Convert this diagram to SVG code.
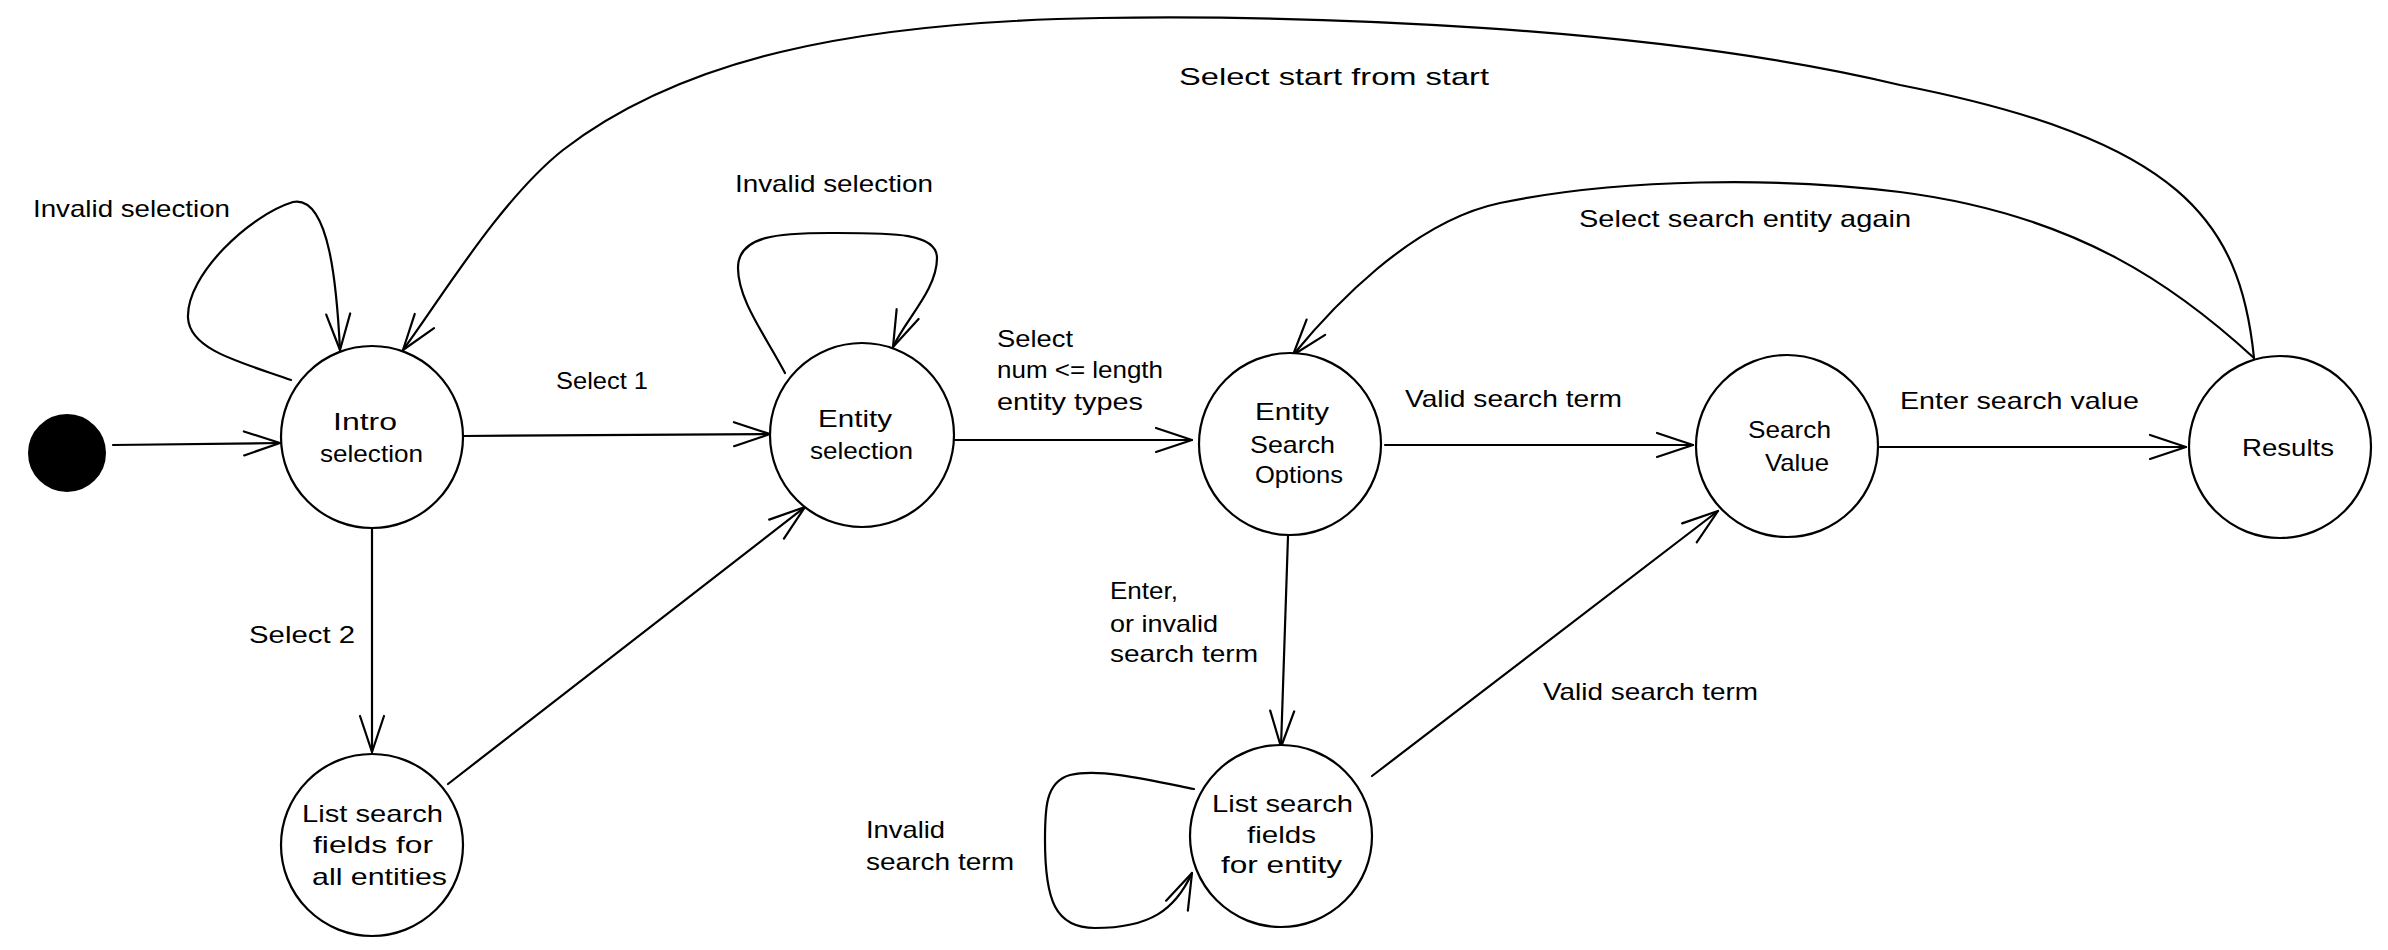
<svg xmlns="http://www.w3.org/2000/svg" width="2388" height="950" viewBox="0 0 2388 950">
<style>
.node{fill:#ffffff;stroke:#000000;stroke-width:2.2}
.edge{fill:none;stroke:#000000;stroke-width:2.2;stroke-linecap:round;marker-end:url(#arr)}
text{font-family:"Liberation Sans",Arial,sans-serif;font-size:24px;fill:#000000}
</style>
<defs>
<marker id="arr" markerUnits="userSpaceOnUse" markerWidth="50" markerHeight="40" viewBox="-40 -20 50 40" refX="0" refY="0" orient="auto">
<path d="M-36,-12 L0,0 L-36,12" fill="none" stroke="#000000" stroke-width="2.2" stroke-linecap="round" stroke-linejoin="round"/>
</marker>
</defs>
<rect width="2388" height="950" fill="#ffffff"/>
<g id="connectors">
<path class="edge" d="M113,445 L280,443"/>
<path class="edge" d="M463,436 L770,434"/>
<path class="edge" d="M953,440 L1192,440"/>
<path class="edge" d="M1385,445 L1693,445"/>
<path class="edge" d="M1880,447 L2186,447"/>
<path class="edge" d="M372,529 L372,752"/>
<path class="edge" d="M448,784 L805,507"/>
<path class="edge" d="M1288,536 L1281,747"/>
<path class="edge" d="M1372,776 L1718,511"/>
<path class="edge" d="M291,380 C240,362 190,350 188,318 C186,275 250,215 293,202 C330,195 337,290 340,350"/>
<path class="edge" d="M785,373 C765,335 738,300 738,268 C738,235 780,233 830,233 C890,233 937,232 937,258 C937,290 905,320 893,347"/>
<path class="edge" d="M1194,789 C1150,780 1100,768 1070,775 C1045,782 1045,810 1045,840 C1045,900 1055,928 1095,928 C1150,928 1175,910 1192,873"/>
<path class="edge" d="M2254,358 C2240,220 2180,140 1900,85 C1650,25 1300,15 1100,18 C850,22 680,60 563,150 C500,200 440,300 403,350"/>
<path class="edge" d="M2254,358 C2180,290 2080,215 1900,192 C1780,177 1620,178 1500,203 C1410,222 1330,310 1293,355"/>
<text x="33" y="217" textLength="197" lengthAdjust="spacingAndGlyphs">Invalid selection</text>
<text x="735" y="192" textLength="198" lengthAdjust="spacingAndGlyphs">Invalid selection</text>
<text x="556" y="389" textLength="92" lengthAdjust="spacingAndGlyphs">Select 1</text>
<text x="997" y="347" textLength="76" lengthAdjust="spacingAndGlyphs">Select</text>
<text x="997" y="378" textLength="166" lengthAdjust="spacingAndGlyphs">num &lt;= length</text>
<text x="997" y="410" textLength="146" lengthAdjust="spacingAndGlyphs">entity types</text>
<text x="1405" y="407" textLength="217" lengthAdjust="spacingAndGlyphs">Valid search term</text>
<text x="1900" y="409" textLength="239" lengthAdjust="spacingAndGlyphs">Enter search value</text>
<text x="1179" y="85" textLength="310" lengthAdjust="spacingAndGlyphs">Select start from start</text>
<text x="1579" y="227" textLength="332" lengthAdjust="spacingAndGlyphs">Select search entity again</text>
<text x="1110" y="599" textLength="68" lengthAdjust="spacingAndGlyphs">Enter,</text>
<text x="1110" y="632" textLength="108" lengthAdjust="spacingAndGlyphs">or invalid</text>
<text x="1110" y="662" textLength="148" lengthAdjust="spacingAndGlyphs">search term</text>
<text x="249" y="643" textLength="106" lengthAdjust="spacingAndGlyphs">Select 2</text>
<text x="866" y="838" textLength="79" lengthAdjust="spacingAndGlyphs">Invalid</text>
<text x="866" y="870" textLength="148" lengthAdjust="spacingAndGlyphs">search term</text>
<text x="1543" y="700" textLength="215" lengthAdjust="spacingAndGlyphs">Valid search term</text>
</g>
<g id="start">
<circle cx="67" cy="453" r="38" fill="#000000" stroke="#000000" stroke-width="2"/>
</g>
<g id="intro">
<circle class="node" cx="372" cy="437" r="91"/>
<text x="333" y="430" textLength="64" lengthAdjust="spacingAndGlyphs">Intro</text>
<text x="320" y="462" textLength="103" lengthAdjust="spacingAndGlyphs">selection</text>
</g>
<g id="entity-selection">
<circle class="node" cx="862" cy="435" r="92"/>
<text x="818" y="427" textLength="74" lengthAdjust="spacingAndGlyphs">Entity</text>
<text x="810" y="459" textLength="103" lengthAdjust="spacingAndGlyphs">selection</text>
</g>
<g id="entity-search-options">
<circle class="node" cx="1290" cy="444" r="91"/>
<text x="1255" y="420" textLength="74" lengthAdjust="spacingAndGlyphs">Entity</text>
<text x="1250" y="453" textLength="85" lengthAdjust="spacingAndGlyphs">Search</text>
<text x="1255" y="483" textLength="88" lengthAdjust="spacingAndGlyphs">Options</text>
</g>
<g id="search-value">
<circle class="node" cx="1787" cy="446" r="91"/>
<text x="1748" y="438" textLength="83" lengthAdjust="spacingAndGlyphs">Search</text>
<text x="1765" y="471" textLength="64" lengthAdjust="spacingAndGlyphs">Value</text>
</g>
<g id="results">
<circle class="node" cx="2280" cy="447" r="91"/>
<text x="2242" y="456" textLength="92" lengthAdjust="spacingAndGlyphs">Results</text>
</g>
<g id="list-all">
<circle class="node" cx="372" cy="845" r="91"/>
<text x="302" y="822" textLength="141" lengthAdjust="spacingAndGlyphs">List search</text>
<text x="313" y="853" textLength="120" lengthAdjust="spacingAndGlyphs">fields for</text>
<text x="312" y="885" textLength="135" lengthAdjust="spacingAndGlyphs">all entities</text>
</g>
<g id="list-entity">
<circle class="node" cx="1281" cy="836" r="91"/>
<text x="1212" y="812" textLength="141" lengthAdjust="spacingAndGlyphs">List search</text>
<text x="1247" y="843" textLength="69" lengthAdjust="spacingAndGlyphs">fields</text>
<text x="1221" y="873" textLength="121" lengthAdjust="spacingAndGlyphs">for entity</text>
</g>
</svg>
